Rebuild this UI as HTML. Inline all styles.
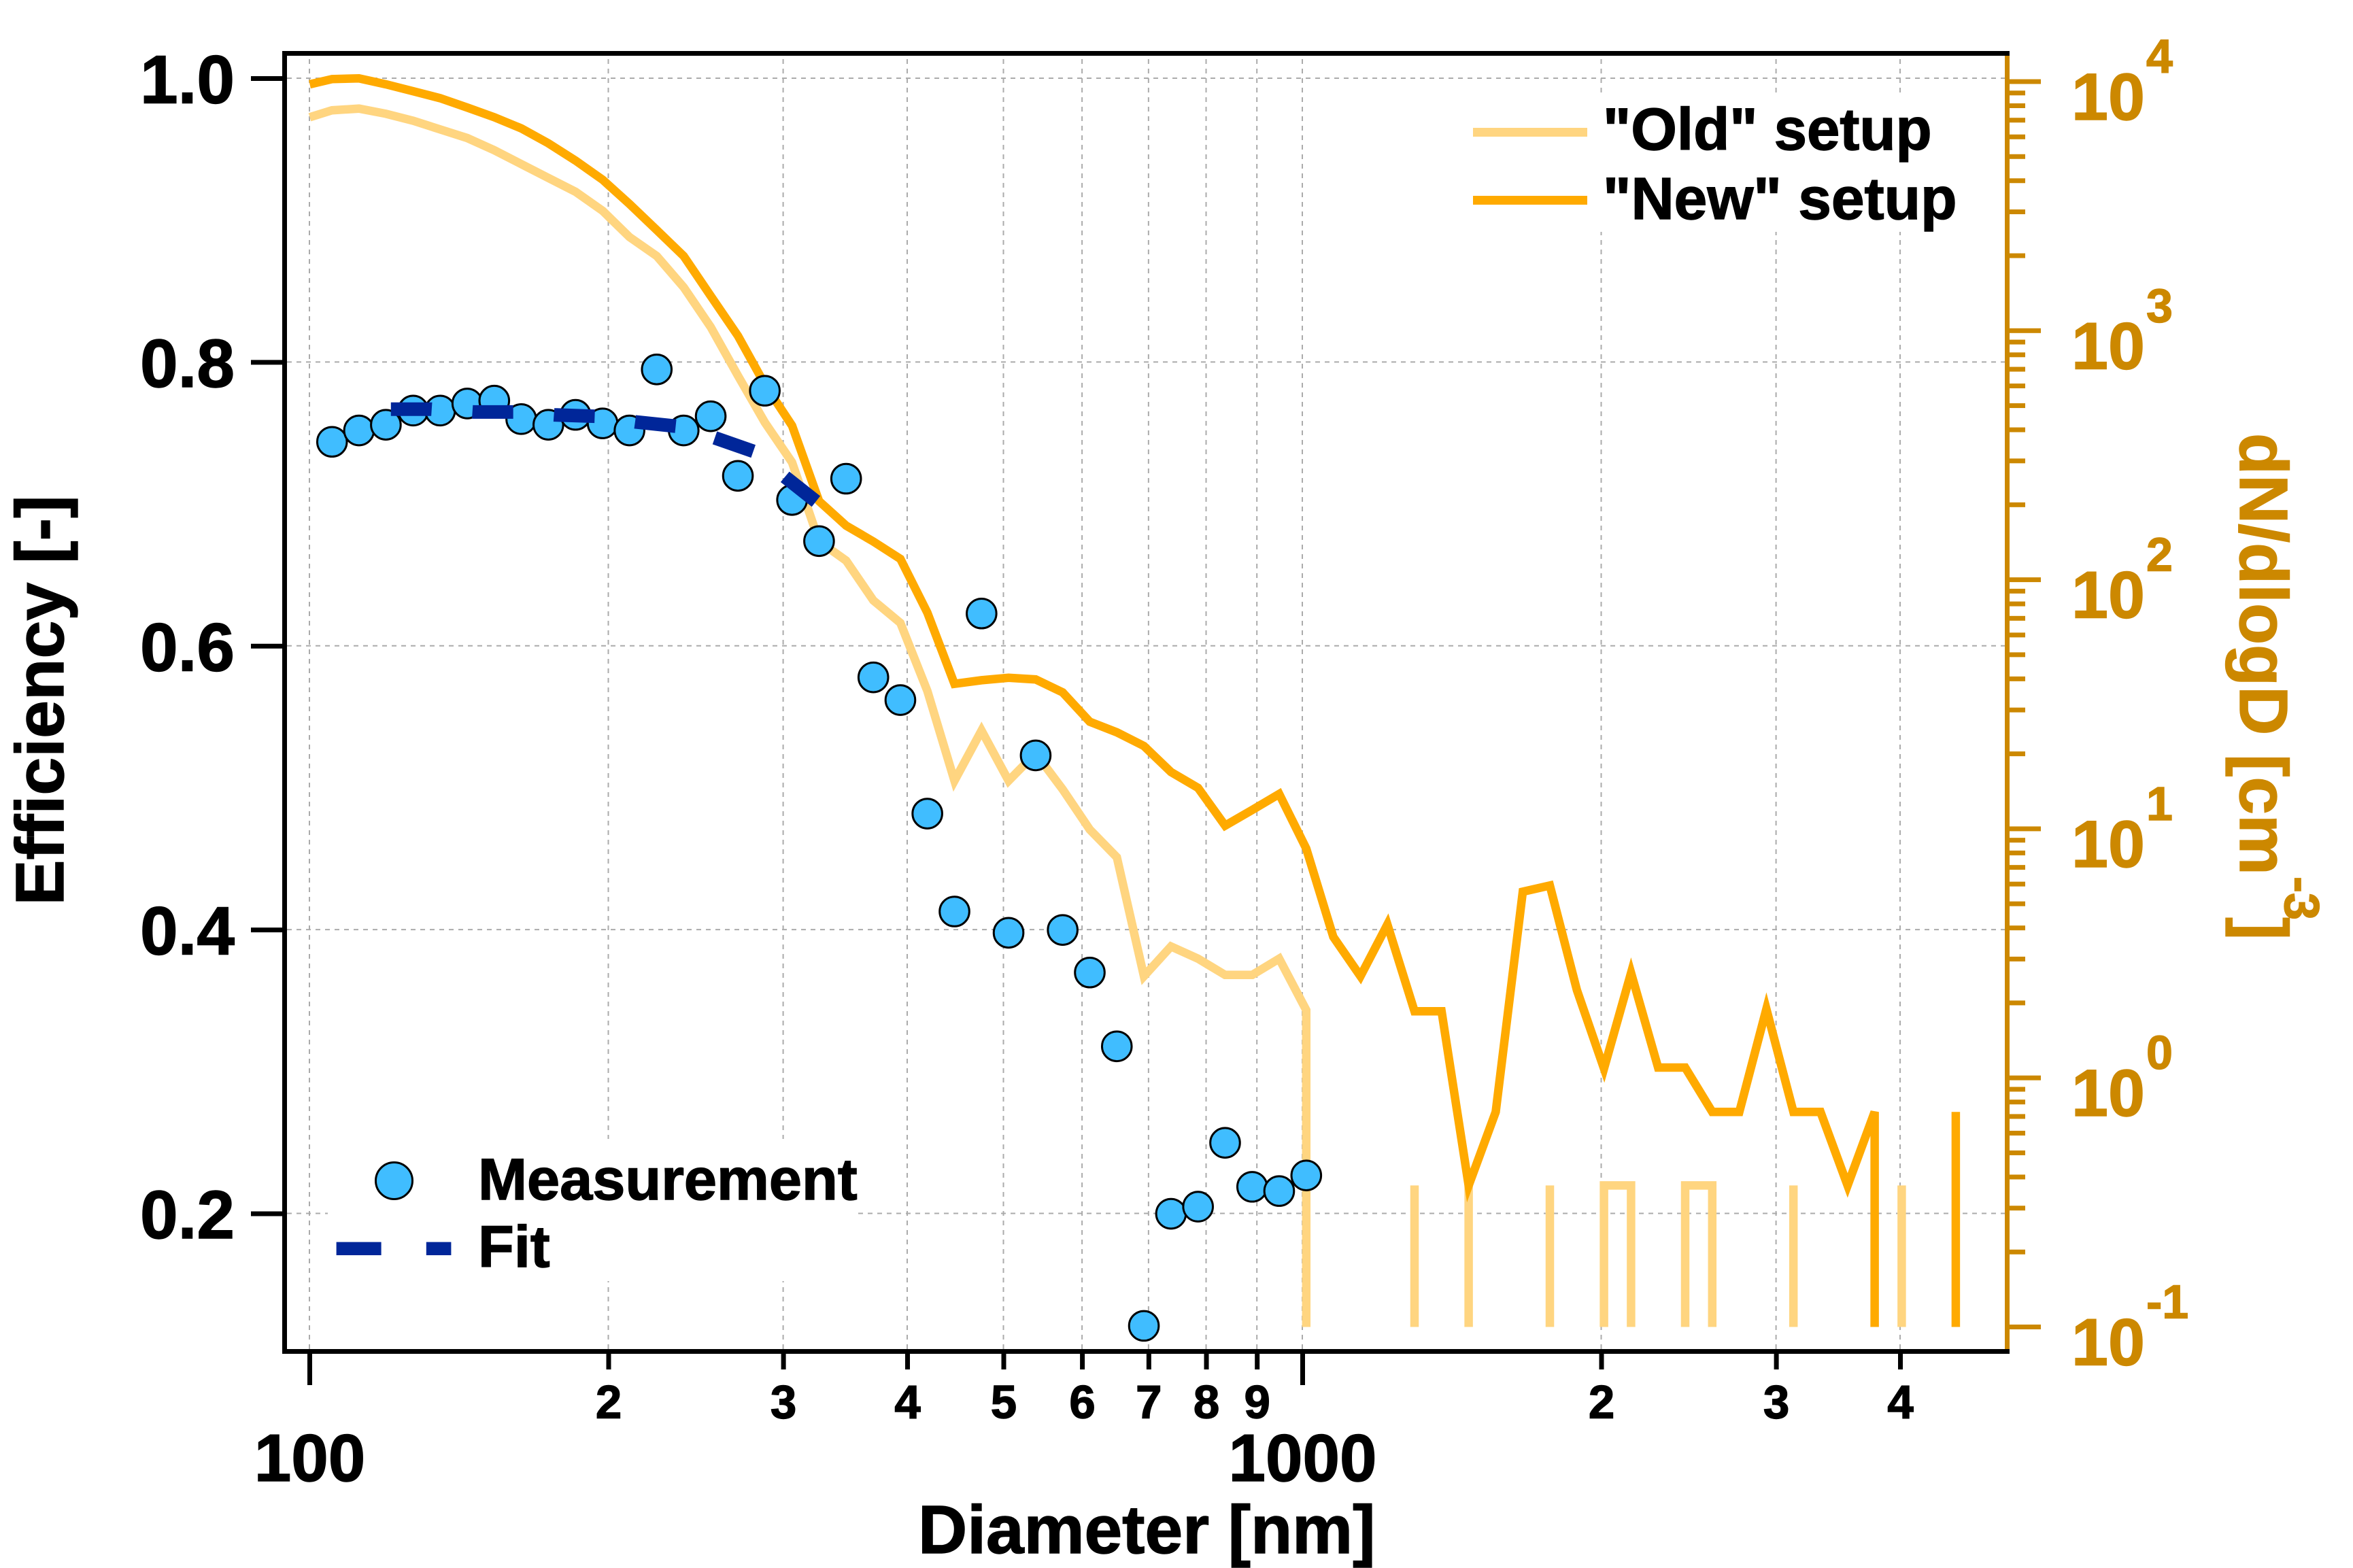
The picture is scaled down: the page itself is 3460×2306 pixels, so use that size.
<!DOCTYPE html>
<html lang="en">
<head>
<meta charset="utf-8">
<title>Efficiency and size distribution vs diameter</title>
<style>
  html, body { margin: 0; padding: 0; background: #fff; }
  svg { display: block; }
  text { font-family: "Liberation Sans", Arial, sans-serif; font-weight: bold; stroke-width: 1.4px; }
</style>
</head>
<body>
<svg id="chart" xmlns="http://www.w3.org/2000/svg" width="3460" height="2306" viewBox="0 0 3460 2306">
  <rect x="0" y="0" width="3460" height="2306" fill="#ffffff"/>
  <g id="grid"></g>
  <rect x="482" y="1675" width="780" height="209" fill="#ffffff"/>
  <rect x="2100" y="136" width="825" height="205" fill="#ffffff"/>
  <g id="series"></g>
  <g id="axes"></g>

  <text x="1350" y="2284" font-size="100" fill="#000000">Diameter [nm]</text>
  <text transform="translate(93,1030) rotate(-90)" text-anchor="middle" font-size="100.5" fill="#000000">Efficiency [-]</text>
  <g transform="translate(3294,637) rotate(90)">
    <text x="0" y="0" font-size="100" fill="#cc8800">dN/dlogD [cm</text>
    <text x="652" y="-66" font-size="72" fill="#cc8800">-3</text>
    <text x="712" y="0" font-size="100" fill="#cc8800">]</text>
  </g>

  <g>
    <rect x="2166" y="188" width="168" height="13" fill="#ffd580"/>
    <text x="2357" y="220" font-size="87" fill="#000000">"Old" setup</text>
    <rect x="2166" y="288" width="168" height="13" fill="#ffaa00"/>
    <text x="2357" y="322" font-size="87.5" fill="#000000">"New" setup</text>
  </g>
  <g>
    <circle cx="579.5" cy="1736.5" r="27" fill="#40bdff" stroke="#000000" stroke-width="3"/>
    <text x="703" y="1764" font-size="86.5" fill="#000000">Measurement</text>
    <rect x="494.6" y="1826.6" width="66" height="19.4" fill="#002699"/>
    <rect x="626.8" y="1826.6" width="36.6" height="19.4" fill="#002699"/>
    <text x="703" y="1863" font-size="86.5" fill="#000000">Fit</text>
  </g>
</svg>
<script>
// ---- Data ----
const measurementDiameters = [105.3,112.1,119.3,127.1,135.3,144.1,153.4,163.3,173.9,185.2,197.2,209.9,223.6,238.0,253.4,269.9,287.3,306.0,325.8,346.9,369.5,393.4,418.8,446.0,474.9,505.6,538.4,573.2,610.4,649.9,692.0,736.9,784.6,835.4,889.5,947.0,1008.4];
const measurementEfficiency = [0.744,0.752,0.756,0.766,0.766,0.771,0.773,0.760,0.756,0.763,0.757,0.752,0.795,0.752,0.762,0.720,0.780,0.703,0.674,0.718,0.578,0.562,0.482,0.413,0.623,0.398,0.523,0.400,0.370,0.318,0.121,0.200,0.205,0.250,0.219,0.216,0.227];

const fitDiameters = [120.7,132.5,146.2,160.4,176.3,193.8,212.7,233.8,255.4,280.7,301.4,323.5];
const fitEfficiency = [0.767,0.767,0.765,0.765,0.763,0.762,0.758,0.755,0.747,0.737,0.719,0.702];

const binDiameters = [100,105.3,112.1,119.3,127.1,135.3,144.1,153.4,163.3,173.9,185.2,197.2,209.9,223.6,238.0,253.4,269.9,287.3,306.0,325.8,346.9,369.5,393.4,418.8,446.0,474.9,505.6,538.4,573.2,610.4,649.9,692.0,736.9,784.6,835.4,889.5,947.0,1008.4,1073.7,1143.4,1217.2,1296.1,1380.1,1469.6,1564.7,1666.2,1774.1,1889.0,2011.4,2141.8,2280.4,2428.1,2585.5,2752.9,2931.3,3121.3,3323.4,3538.8,3768.0,4012.0,4272.0,4548.0];
const newSetupCounts = [9752,10235,10300,9752,9146,8579,7866,7194,6491,5655,4818,4037,3226,2536,1994,1379,953.4,608.3,415.6,206.8,164.9,142.4,121.2,73.8,38.2,39.5,40.4,39.8,35.3,26.9,24.4,21.5,16.9,14.6,10.3,11.9,13.8,8.33,3.68,2.56,4.13,1.85,1.85,0.37,0.73,5.59,5.92,2.25,1.09,2.64,1.10,1.10,0.73,0.73,1.89,0.73,0.73,0.37,0.73,0,0,0.73];
const oldSetupCounts = [7194,7670,7790,7427,6964,6428,5936,5302,4666,4104,3613,3029,2377,1994,1494,1034,659.6,427.9,296,142.7,119.3,82.6,67.1,35.8,15.6,24.8,15.6,20.1,14.4,9.93,7.69,2.56,3.37,3.01,2.59,2.59,3.01,1.87,0,0,0,0.37,0,0.37,0,0,0.37,0,0.37,0.37,0,0.37,0.37,0,0,0.37,0,0,0,0.37,0,0];

const xTickValues = [100,200,300,400,500,600,700,800,900,1000,2000,3000,4000];
const xTickLabels = ['100','2','3','4','5','6','7','8','9','1000','2','3','4'];
const xMajorValues = [100,1000];
const yTickValues = [0.2,0.4,0.6,0.8,1.0];
const yTickLabels = ['0.2','0.4','0.6','0.8','1.0'];
const rightDecades = [-1,0,1,2,3,4];
const rightExponentLabels = ['-1','0','1','2','3','4'];
const rightMinorFactors = [2,3,4,5,6,7,8,9];

// ---- Axis functions ----
function xScale(d) { return 455.5 + 1460 * Math.log10(d / 100); }
function yLeft(v) { return 115.5 + (1 - v) * 2086.9; }
function yRight(c) { return 1951.5 - 366.3 * (Math.log10(c) + 1); }

const NS = 'http://www.w3.org/2000/svg';
function mk(parent, tag, props) {
  const el = document.createElementNS(NS, tag);
  for (const k in props) el.setAttribute(k, props[k]);
  parent.appendChild(el);
  return el;
}

const gridG = document.getElementById('grid');
const seriesG = document.getElementById('series');
const axesG = document.getElementById('axes');

// ---- Grid ----
const gridStyle = { stroke: '#ababab', 'stroke-width': 2, 'stroke-dasharray': '7 7', fill: 'none' };
xTickValues.forEach(function (v) {
  const x = xScale(v);
  const el = mk(gridG, 'line', Object.assign({ x1: x - 0.5, x2: x - 0.5, y1: 1984, y2: 82 }, gridStyle));
  
  
});
yTickValues.forEach(function (v) {
  const y = yLeft(v);
  const el = mk(gridG, 'line', Object.assign({ x1: 422, x2: 2948, y1: y - 0.5, y2: y - 0.5 }, gridStyle));
  
  
});

// ---- Size distribution lines ----
function linePath(counts) {
  // zero counts fall off the log axis: the line drops to the axis floor at the same x
  const floor = yRight(0.1);
  let d = '';
  let i = 0;
  while (i < counts.length) {
    if (counts[i] <= 0) { i++; continue; }
    const first = i;
    let seg = '';
    if (first > 0) seg += 'M' + xScale(binDiameters[first]).toFixed(1) + ' ' + floor.toFixed(1) + 'L';
    else seg += 'M';
    while (i < counts.length && counts[i] > 0) {
      seg += (i === first ? '' : 'L') + xScale(binDiameters[i]).toFixed(1) + ' ' + yRight(counts[i]).toFixed(1);
      i++;
    }
    if (i < counts.length) seg += 'L' + xScale(binDiameters[i - 1]).toFixed(1) + ' ' + floor.toFixed(1);
    d += seg;
  }
  return d;
}
const oldLine = mk(seriesG, 'path', { d: linePath(oldSetupCounts), fill: 'none', stroke: '#ffd580', 'stroke-width': 12.5, 'stroke-linejoin': 'miter', 'stroke-miterlimit': 4 });


const newLine = mk(seriesG, 'path', { d: linePath(newSetupCounts), fill: 'none', stroke: '#ffaa00', 'stroke-width': 12.5, 'stroke-linejoin': 'miter', 'stroke-miterlimit': 4 });



// ---- Measurement points ----
measurementDiameters.forEach(function (d, i) {
  const c = mk(seriesG, 'circle', { cx: xScale(d), cy: yLeft(measurementEfficiency[i]), r: 21.8, fill: '#40bdff', stroke: '#000000', 'stroke-width': 3 });
  
  
});

// ---- Fit ----
const fitPoints = fitDiameters.map(function (d, i) {
  return xScale(d).toFixed(1) + ',' + yLeft(fitEfficiency[i]).toFixed(1);
}).join(' ');
const fitLine = mk(seriesG, 'polyline', { points: fitPoints, fill: 'none', stroke: '#002699', 'stroke-width': 20, 'stroke-dasharray': '60 60', 'stroke-linejoin': 'miter' });



// ---- Axes ----
const frameTop = mk(axesG, 'rect', { x: 415, y: 75, width: 2540, height: 7, fill: '#000000' });


const frameLeft = mk(axesG, 'rect', { x: 415, y: 75, width: 7, height: 1916, fill: '#000000' });


const frameRight = mk(axesG, 'rect', { x: 2948, y: 82, width: 7, height: 1902, fill: '#cc8800' });


const frameBottom = mk(axesG, 'rect', { x: 415, y: 1984, width: 2540, height: 7, fill: '#000000' });



xTickValues.forEach(function (v, i) {
  const x = xScale(v);
  const major = xMajorValues.indexOf(v) >= 0;
  const t = mk(axesG, 'rect', { x: x - 3.5, y: 1991, width: 7, height: major ? 46 : 23, fill: '#000000' });
  
  
  const lab = mk(axesG, 'text', { x: x, y: major ? 2178 : 2085.5, 'text-anchor': 'middle', 'font-size': major ? 98 : 69, fill: '#000000' });
  lab.textContent = xTickLabels[i];
  
  
});

yTickValues.forEach(function (v, i) {
  const y = yLeft(v);
  const t = mk(axesG, 'rect', { x: 369, y: y - 3.5, width: 46, height: 7, fill: '#000000' });
  
  
  const lab = mk(axesG, 'text', { x: 345, y: y + 36, 'text-anchor': 'end', 'font-size': 100, fill: '#000000' });
  lab.textContent = yTickLabels[i];
  
  
});

rightDecades.forEach(function (e, i) {
  const y = yRight(Math.pow(10, e));
  const t = mk(axesG, 'rect', { x: 2955, y: y - 3.5, width: 46, height: 7, fill: '#cc8800' });
  
  
  const base = mk(axesG, 'text', { x: 3046, y: y + 56, 'font-size': 97, fill: '#cc8800' });
  base.textContent = '10';
  
  
  const exp = mk(axesG, 'text', { x: 3156, y: y - 13, 'font-size': 70, fill: '#cc8800' });
  exp.textContent = rightExponentLabels[i];
  
  
  if (e < 4) {
    rightMinorFactors.forEach(function (f) {
      const yy = yRight(f * Math.pow(10, e));
      const m = mk(axesG, 'rect', { x: 2955, y: yy - 3.5, width: 23, height: 7, fill: '#cc8800' });
      
      
    });
  }
});

// Slightly heavier glyphs, matching the reference's bold weight
document.querySelectorAll('text').forEach(function (t) {
  t.setAttribute('stroke', t.getAttribute('fill'));
});
</script>
</body>
</html>
